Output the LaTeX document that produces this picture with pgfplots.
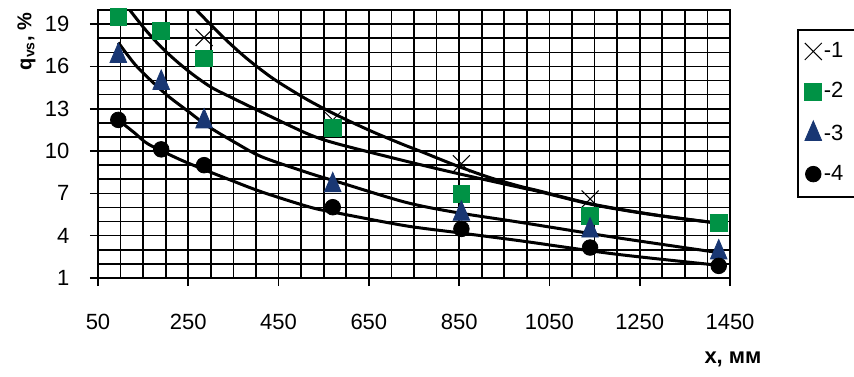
\documentclass[border=0pt]{standalone}
\usepackage{fontspec}
\setmainfont{Liberation Sans}
\usepackage{pgfplots}
\pgfplotsset{compat=1.18}
\definecolor{sqgreen}{RGB}{0,146,69}
\definecolor{trblue}{RGB}{25,55,115}
\pgfplotsset{
  mymarks/.style={only marks, legend image code/.code={\draw[##1] plot coordinates {(0pt,0pt)};}},
}
\begin{document}
\begin{tikzpicture}
\useasboundingbox (-49pt,-49pt) rectangle (378pt,139pt);
\begin{axis}[
  at={(0,0)}, anchor=south west,
  scale only axis, width=316pt, height=134pt,
  xmin=50, xmax=1450, ymin=1, ymax=20,
  xtick={50,250,...,1450}, ytick={1,4,...,19},
  minor x tick num=3, minor y tick num=2,
  grid=both,
  major grid style={black, line width=0.8pt},
  minor grid style={black, line width=0.8pt},
  axis line style={black, line width=0.8pt},
  every tick/.style={black, line width=0.8pt},
  major tick length=4pt, minor tick length=0pt,
  tick align=outside,
  xtick pos=bottom, ytick pos=left,
  ticklabel style={font=\fontsize{11}{13}\selectfont},
  /pgf/number format/assume math mode=true,
  /pgf/number format/set thousands separator={},
  xticklabel style={yshift=-10.5pt},
  yticklabel style={xshift=-6.8pt},
  xlabel={\textbf{х, мм}},
  xlabel style={at={(rel axis cs:1,0)}, anchor=base, xshift=1.5pt, yshift=-42.5pt, font=\fontsize{11}{13}\selectfont},
  legend style={draw=none, fill=none, at={(axis description cs:1.1177,0.888)}, anchor=north west,
    font=\fontsize{11}{13}\selectfont, row sep=9pt, inner sep=0pt, nodes={inner sep=1pt}},
  legend cell align=left,
]
\addplot[mymarks, mark=x, mark size=6pt, mark options={black, line width=0.5pt}]
  coordinates {(285,18.05) (570,12.2) (855,9.1) (1140,6.6) (1425,4.91)};
\addlegendentry{-1}
\addplot[mymarks, mark=square*, mark size=4.2pt, mark options={draw=sqgreen, fill=sqgreen}]
  coordinates {(95,19.52) (190,18.52) (285,16.57) (570,11.62) (855,6.98) (1140,5.43) (1425,4.91)};
\addlegendentry{-2}
\addplot[mymarks, mark=triangle*, mark size=4.8pt, mark options={draw=trblue, fill=trblue, yscale=1.35}]
  coordinates {(95,16.74) (190,14.83) (285,12.1) (570,7.57) (855,5.55) (1140,4.36) (1425,2.81)};
\addlegendentry{-3}
\addplot[mymarks, mark=*, mark size=3.9pt, mark options={draw=black, fill=black}]
  coordinates {(95,12.21) (190,10.12) (285,9.0) (570,6.02) (855,4.48) (1140,3.16) (1425,1.86)};
\addlegendentry{-4}
% trend curves
\addplot[forget plot, smooth, black, line width=1.5pt] coordinates {
  (262,20.2) (302,18.88) (339,17.72) (376,16.66) (413,15.72) (449,14.9) (516,13.6)
  (582,12.5) (656,11.4) (723,10.5) (767,9.95) (841,9.0) (915,8.15) (985,7.5)
  (1024,7.2) (1151,6.2) (1290,5.45) (1432,4.86)};
\addplot[forget plot, smooth, black, line width=1.5pt] coordinates {
  (113,20.3) (154,18.64) (191,17.34) (228,16.26) (265,15.31) (302,14.5) (339,13.9)
  (413,12.75) (516,11.2) (582,10.5) (730,9.3) (841,8.45) (985,7.42)
  (1024,7.15) (1151,6.17) (1290,5.43) (1432,4.86)};
\addplot[forget plot, smooth, black, line width=1.5pt] coordinates {
  (95,17.69) (132,16.14) (169,14.95) (206,13.88) (250,12.81) (294,11.75) (354,10.6)
  (413,9.59) (520,8.41) (582,7.81) (730,6.38) (841,5.66) (985,4.95) (1195,3.88) (1425,2.8)};
\addplot[forget plot, smooth, black, line width=1.5pt] coordinates {
  (95,12.21) (132,11.26) (161,10.5) (228,9.45) (280,8.75) (339,8.0) (413,7.1)
  (520,6.02) (582,5.6) (730,4.71) (841,4.24) (985,3.64) (1195,2.7) (1425,1.9)};
\end{axis}
\node[rotate=90, anchor=south east, font=\bfseries\fontsize{10}{12}\selectfont, inner sep=0pt] at (-31pt,133pt) {q\textsubscript{vs},\ \%};
\draw[black, line width=0.7pt] (350pt,40.5pt) rectangle (400pt,124pt);
\end{tikzpicture}
\end{document}
